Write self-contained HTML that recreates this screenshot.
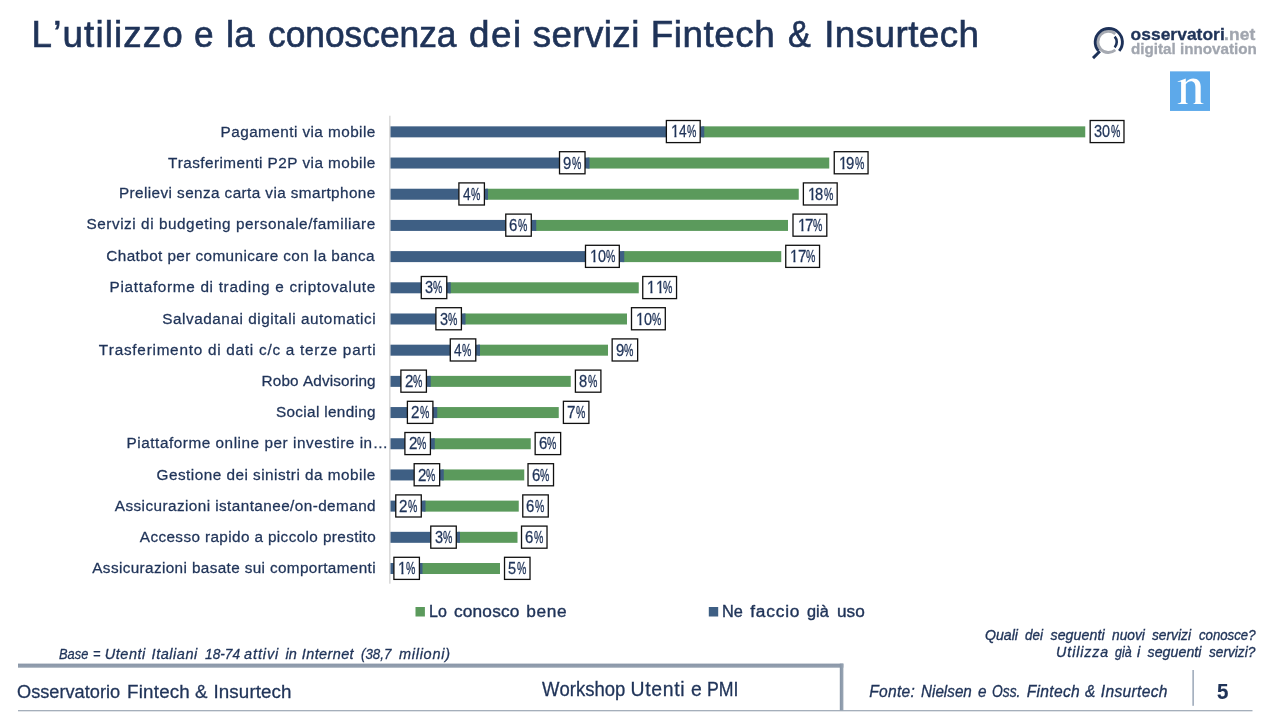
<!DOCTYPE html>
<html lang="it">
<head>
<meta charset="utf-8">
<title>L’utilizzo e la conoscenza dei servizi Fintech &amp; Insurtech</title>
<style>
html,body{margin:0;padding:0;background:#fff;}
body{width:1280px;height:720px;position:relative;overflow:hidden;font-family:"Liberation Sans",sans-serif;font-kerning:none;font-variant-ligatures:none;}
.grp,.lb{position:absolute;left:0;top:0;width:0;height:0;font-size:0;line-height:0;}
.t{position:absolute;display:block;white-space:pre;line-height:1;transform-origin:0 0;}
.g{position:absolute;display:block;line-height:1;white-space:pre;transform-origin:0 0;color:#1f3358;font-size:16.3px;-webkit-text-stroke:0.27px #1f3358;}
svg{position:absolute;left:0;top:0;}
#txt{position:absolute;left:0;top:0;width:1280px;height:720px;will-change:transform;}
</style>
</head>
<body>
<svg width="1280" height="720" viewBox="0 0 1280 720">
<defs><linearGradient id="hg" x1="0" y1="0" x2="0" y2="1"><stop offset="0" stop-color="#8996a8"/><stop offset="1" stop-color="#95a1b0"/></linearGradient><linearGradient id="vg" x1="0" y1="0" x2="1" y2="0"><stop offset="0" stop-color="#8594a6"/><stop offset="1" stop-color="#9aa6b4"/></linearGradient></defs>
<rect x="389.2" y="115.7" width="1.3" height="468" fill="#d3d3d3"/>
<rect x="702.25" y="126.35" width="383.00" height="11" fill="#5b9a5c"/>
<rect x="390.5" y="126.35" width="313.75" height="11" fill="#3e5f84"/>
<rect x="587.50" y="157.54" width="241.75" height="11" fill="#5b9a5c"/>
<rect x="390.5" y="157.54" width="199.00" height="11" fill="#3e5f84"/>
<rect x="486.00" y="188.73" width="312.75" height="11" fill="#5b9a5c"/>
<rect x="390.5" y="188.73" width="97.50" height="11" fill="#3e5f84"/>
<rect x="534.25" y="219.92" width="253.75" height="11" fill="#5b9a5c"/>
<rect x="390.5" y="219.92" width="145.75" height="11" fill="#3e5f84"/>
<rect x="622.25" y="251.11" width="159.00" height="11" fill="#5b9a5c"/>
<rect x="390.5" y="251.11" width="233.75" height="11" fill="#3e5f84"/>
<rect x="448.75" y="282.30" width="190.00" height="11" fill="#5b9a5c"/>
<rect x="390.5" y="282.30" width="60.25" height="11" fill="#3e5f84"/>
<rect x="463.50" y="313.49" width="163.50" height="11" fill="#5b9a5c"/>
<rect x="390.5" y="313.49" width="75.00" height="11" fill="#3e5f84"/>
<rect x="478.00" y="344.68" width="130.00" height="11" fill="#5b9a5c"/>
<rect x="390.5" y="344.68" width="89.50" height="11" fill="#3e5f84"/>
<rect x="428.75" y="375.87" width="142.00" height="11" fill="#5b9a5c"/>
<rect x="390.5" y="375.87" width="40.25" height="11" fill="#3e5f84"/>
<rect x="435.25" y="407.06" width="123.50" height="11" fill="#5b9a5c"/>
<rect x="390.5" y="407.06" width="46.75" height="11" fill="#3e5f84"/>
<rect x="432.75" y="438.25" width="98.00" height="11" fill="#5b9a5c"/>
<rect x="390.5" y="438.25" width="44.25" height="11" fill="#3e5f84"/>
<rect x="441.75" y="469.44" width="82.50" height="11" fill="#5b9a5c"/>
<rect x="390.5" y="469.44" width="53.25" height="11" fill="#3e5f84"/>
<rect x="423.50" y="500.63" width="95.25" height="11" fill="#5b9a5c"/>
<rect x="390.5" y="500.63" width="35.00" height="11" fill="#3e5f84"/>
<rect x="458.00" y="531.82" width="59.50" height="11" fill="#5b9a5c"/>
<rect x="390.5" y="531.82" width="69.50" height="11" fill="#3e5f84"/>
<rect x="420.50" y="563.01" width="79.50" height="11" fill="#5b9a5c"/>
<rect x="390.5" y="563.01" width="32.00" height="11" fill="#3e5f84"/>
<rect x="666.38" y="120.50" width="33.80" height="22.10" fill="#fff" stroke="#101010" stroke-width="1.3"/>
<rect x="1090.18" y="120.50" width="33.80" height="22.10" fill="#fff" stroke="#101010" stroke-width="1.3"/>
<rect x="559.52" y="151.70" width="25.50" height="22.10" fill="#fff" stroke="#101010" stroke-width="1.3"/>
<rect x="834.25" y="151.70" width="33.80" height="22.10" fill="#fff" stroke="#101010" stroke-width="1.3"/>
<rect x="458.90" y="182.90" width="25.50" height="22.10" fill="#fff" stroke="#101010" stroke-width="1.3"/>
<rect x="803.38" y="182.90" width="33.80" height="22.10" fill="#fff" stroke="#101010" stroke-width="1.3"/>
<rect x="505.77" y="214.10" width="25.50" height="22.10" fill="#fff" stroke="#101010" stroke-width="1.3"/>
<rect x="793.00" y="214.10" width="33.80" height="22.10" fill="#fff" stroke="#101010" stroke-width="1.3"/>
<rect x="585.50" y="245.30" width="33.80" height="22.10" fill="#fff" stroke="#101010" stroke-width="1.3"/>
<rect x="785.75" y="245.30" width="33.80" height="22.10" fill="#fff" stroke="#101010" stroke-width="1.3"/>
<rect x="421.27" y="276.50" width="25.50" height="22.10" fill="#fff" stroke="#101010" stroke-width="1.3"/>
<rect x="642.75" y="276.50" width="33.80" height="22.10" fill="#fff" stroke="#101010" stroke-width="1.3"/>
<rect x="435.90" y="307.70" width="25.50" height="22.10" fill="#fff" stroke="#101010" stroke-width="1.3"/>
<rect x="631.50" y="307.70" width="33.80" height="22.10" fill="#fff" stroke="#101010" stroke-width="1.3"/>
<rect x="450.27" y="338.90" width="25.50" height="22.10" fill="#fff" stroke="#101010" stroke-width="1.3"/>
<rect x="612.15" y="338.90" width="25.50" height="22.10" fill="#fff" stroke="#101010" stroke-width="1.3"/>
<rect x="400.90" y="370.10" width="25.50" height="22.10" fill="#fff" stroke="#101010" stroke-width="1.3"/>
<rect x="575.40" y="370.10" width="25.50" height="22.10" fill="#fff" stroke="#101010" stroke-width="1.3"/>
<rect x="407.40" y="401.30" width="25.50" height="22.10" fill="#fff" stroke="#101010" stroke-width="1.3"/>
<rect x="563.40" y="401.30" width="25.50" height="22.10" fill="#fff" stroke="#101010" stroke-width="1.3"/>
<rect x="404.90" y="432.50" width="25.50" height="22.10" fill="#fff" stroke="#101010" stroke-width="1.3"/>
<rect x="535.15" y="432.50" width="25.50" height="22.10" fill="#fff" stroke="#101010" stroke-width="1.3"/>
<rect x="414.15" y="463.70" width="25.50" height="22.10" fill="#fff" stroke="#101010" stroke-width="1.3"/>
<rect x="528.02" y="463.70" width="25.50" height="22.10" fill="#fff" stroke="#101010" stroke-width="1.3"/>
<rect x="395.77" y="494.90" width="25.50" height="22.10" fill="#fff" stroke="#101010" stroke-width="1.3"/>
<rect x="522.77" y="494.90" width="25.50" height="22.10" fill="#fff" stroke="#101010" stroke-width="1.3"/>
<rect x="430.77" y="526.10" width="25.50" height="22.10" fill="#fff" stroke="#101010" stroke-width="1.3"/>
<rect x="521.52" y="526.10" width="25.50" height="22.10" fill="#fff" stroke="#101010" stroke-width="1.3"/>
<rect x="393.90" y="557.30" width="25.50" height="22.10" fill="#fff" stroke="#101010" stroke-width="1.3"/>
<rect x="504.52" y="557.30" width="25.50" height="22.10" fill="#fff" stroke="#101010" stroke-width="1.3"/>
<rect x="415.5" y="607" width="9.4" height="9.5" fill="#5b9a5c"/>
<rect x="708.8" y="607" width="9.4" height="9.5" fill="#3e5f84"/>
<rect x="18" y="663.6" width="825.4" height="4.1" fill="url(#hg)"/>
<rect x="839.8" y="663.6" width="3.6" height="47.2" fill="url(#vg)"/>
<rect x="18" y="710.1" width="1234.5" height="1.2" fill="#9ca7b4"/>
<rect x="1192.5" y="670" width="1.2" height="35.8" fill="#8191a6"/>
<rect x="1170" y="71.35" width="40" height="39.6" fill="#5da9ea"/>
<path fill="#fff" d="M1177.7 81.4 L1185.8 78.4 L1185.8 82.2 C1187.5 80 1190.5 78.4 1193.2 78.4 C1198 78.4 1200.7 81.5 1200.7 86.5 L1200.7 101.5 C1200.7 102.8 1201.5 103.2 1203.5 103.4 L1203.5 103.9 L1193.4 103.9 L1193.4 103.4 C1194.8 103.2 1195.4 102.8 1195.4 101.5 L1195.4 87.5 C1195.4 83.5 1193.8 81.3 1191 81.3 C1189 81.3 1187 82.5 1185.8 84.3 L1185.8 101.5 C1185.8 102.8 1186.4 103.2 1187.8 103.4 L1187.8 103.9 L1177.7 103.9 L1177.7 103.4 C1179.8 103.2 1181.1 102.8 1181.1 101.5 L1181.1 82 C1181.1 81.6 1180 81.6 1177.7 82 Z"/>
<g fill="none">
<path d="M 1115.3 33.8 A 10.6 10.6 0 1 0 1115.3 50.0" stroke="#a6aab2" stroke-width="2.9"/>
<path d="M 1119.2 50.9 A 13.6 13.6 0 1 0 1098.4 50.9" stroke="#1d3158" stroke-width="2.9"/>
<path d="M 1099.9 51.2 L 1093.0 58.1" stroke="#1d3158" stroke-width="2.9"/>
<path d="M 1114.7 36.7 A 8.2 8.2 0 0 1 1114.7 47.5" stroke="#1d3158" stroke-width="2.6"/>
</g>
</svg>
<div id="txt">
<div class="grp"><span class="t" style='left:31.61px;top:17px;font-size:36.8px;color:#1f3358;transform:scaleX(1.0000);letter-spacing:1.121px;-webkit-text-stroke:0.65px #1f3358;'>L’utilizzo</span> <span class="t" style='left:194.11px;top:17px;font-size:36.8px;color:#1f3358;transform:scaleX(0.9571);-webkit-text-stroke:0.65px #1f3358;'>e</span> <span class="t" style='left:226.25px;top:17px;font-size:36.8px;color:#1f3358;transform:scaleX(0.9958);-webkit-text-stroke:0.65px #1f3358;'>la</span> <span class="t" style='left:268.11px;top:17px;font-size:36.8px;color:#1f3358;transform:scaleX(0.9599);-webkit-text-stroke:0.65px #1f3358;'>conoscenza</span> <span class="t" style='left:469.08px;top:17px;font-size:36.8px;color:#1f3358;transform:scaleX(1.0000);letter-spacing:1.533px;-webkit-text-stroke:0.65px #1f3358;'>dei</span> <span class="t" style='left:532.70px;top:17px;font-size:36.8px;color:#1f3358;transform:scaleX(1.0000);letter-spacing:0.397px;-webkit-text-stroke:0.65px #1f3358;'>servizi</span> <span class="t" style='left:650.71px;top:17px;font-size:36.8px;color:#1f3358;transform:scaleX(1.0000);letter-spacing:0.563px;-webkit-text-stroke:0.65px #1f3358;'>Fintech</span> <span class="t" style='left:788.40px;top:17px;font-size:36.8px;color:#1f3358;transform:scaleX(0.9281);-webkit-text-stroke:0.65px #1f3358;'>&amp;</span> <span class="t" style='left:824.13px;top:17px;font-size:36.8px;color:#1f3358;transform:scaleX(1.0000);letter-spacing:0.440px;-webkit-text-stroke:0.65px #1f3358;'>Insurtech</span></div>
<div class="grp"><span class="t" style='left:220.58px;top:124px;font-size:15.3px;color:#1f3358;transform:scaleX(1.0000);letter-spacing:0.446px;-webkit-text-stroke:0.28px #1f3358;'>Pagamenti via mobile</span></div>
<div class="grp"><span class="t" style='left:168.00px;top:155px;font-size:15.3px;color:#1f3358;transform:scaleX(1.0000);letter-spacing:0.436px;-webkit-text-stroke:0.28px #1f3358;'>Trasferimenti P2P via mobile</span></div>
<div class="grp"><span class="t" style='left:118.98px;top:185px;font-size:15.3px;color:#1f3358;transform:scaleX(1.0000);letter-spacing:0.411px;-webkit-text-stroke:0.28px #1f3358;'>Prelievi senza carta via smartphone</span></div>
<div class="grp"><span class="t" style='left:86.45px;top:216px;font-size:15.3px;color:#1f3358;transform:scaleX(1.0000);letter-spacing:0.560px;-webkit-text-stroke:0.28px #1f3358;'>Servizi di budgeting personale/familiare</span></div>
<div class="grp"><span class="t" style='left:106.31px;top:248px;font-size:15.3px;color:#1f3358;transform:scaleX(1.0000);letter-spacing:0.413px;-webkit-text-stroke:0.28px #1f3358;'>Chatbot per comunicare con la banca</span></div>
<div class="grp"><span class="t" style='left:109.58px;top:279px;font-size:15.3px;color:#1f3358;transform:scaleX(1.0000);letter-spacing:0.697px;-webkit-text-stroke:0.28px #1f3358;'>Piattaforme di trading e criptovalute</span></div>
<div class="grp"><span class="t" style='left:162.15px;top:311px;font-size:15.3px;color:#1f3358;transform:scaleX(1.0000);letter-spacing:0.560px;-webkit-text-stroke:0.28px #1f3358;'>Salvadanai digitali automatici</span></div>
<div class="grp"><span class="t" style='left:98.75px;top:342px;font-size:15.3px;color:#1f3358;transform:scaleX(1.0000);letter-spacing:0.754px;-webkit-text-stroke:0.28px #1f3358;'>Trasferimento di dati c/c a terze parti</span></div>
<div class="grp"><span class="t" style='left:261.58px;top:373px;font-size:15.3px;color:#1f3358;transform:scaleX(1.0000);letter-spacing:0.128px;-webkit-text-stroke:0.28px #1f3358;'>Robo Advisoring</span></div>
<div class="grp"><span class="t" style='left:275.90px;top:404px;font-size:15.3px;color:#1f3358;transform:scaleX(1.0000);letter-spacing:0.345px;-webkit-text-stroke:0.28px #1f3358;'>Social lending</span></div>
<div class="grp"><span class="t" style='left:126.58px;top:435px;font-size:15.3px;color:#1f3358;transform:scaleX(1.0000);letter-spacing:0.544px;-webkit-text-stroke:0.28px #1f3358;'>Piattaforme online per investire in…</span></div>
<div class="grp"><span class="t" style='left:156.57px;top:467px;font-size:15.3px;color:#1f3358;transform:scaleX(1.0000);letter-spacing:0.489px;-webkit-text-stroke:0.28px #1f3358;'>Gestione dei sinistri da mobile</span></div>
<div class="grp"><span class="t" style='left:114.81px;top:498px;font-size:15.3px;color:#1f3358;transform:scaleX(1.0000);letter-spacing:0.430px;-webkit-text-stroke:0.28px #1f3358;'>Assicurazioni istantanee/on-demand</span></div>
<div class="grp"><span class="t" style='left:139.81px;top:529px;font-size:15.3px;color:#1f3358;transform:scaleX(1.0000);letter-spacing:0.385px;-webkit-text-stroke:0.28px #1f3358;'>Accesso rapido a piccolo prestito</span></div>
<div class="grp"><span class="t" style='left:92.31px;top:560px;font-size:15.3px;color:#1f3358;transform:scaleX(1.0000);letter-spacing:0.373px;-webkit-text-stroke:0.28px #1f3358;'>Assicurazioni basate sui comportamenti</span></div>
<div class="grp"><span class="t" style='left:428.77px;top:603px;font-size:17.3px;color:#1f3358;transform:scaleX(0.9259);-webkit-text-stroke:0.4px #1f3358;'>Lo</span> <span class="t" style='left:453.97px;top:603px;font-size:17.3px;color:#1f3358;transform:scaleX(1.0000);letter-spacing:0.171px;-webkit-text-stroke:0.4px #1f3358;'>conosco</span> <span class="t" style='left:526.18px;top:603px;font-size:17.3px;color:#1f3358;transform:scaleX(1.0000);letter-spacing:0.666px;-webkit-text-stroke:0.4px #1f3358;'>bene</span></div>
<div class="grp"><span class="t" style='left:722.45px;top:603px;font-size:17.3px;color:#1f3358;transform:scaleX(0.9446);-webkit-text-stroke:0.4px #1f3358;'>Ne</span> <span class="t" style='left:750.16px;top:603px;font-size:17.3px;color:#1f3358;transform:scaleX(1.0000);letter-spacing:0.836px;-webkit-text-stroke:0.4px #1f3358;'>faccio</span> <span class="t" style='left:806.80px;top:603px;font-size:17.3px;color:#1f3358;transform:scaleX(0.9446);-webkit-text-stroke:0.4px #1f3358;'>già</span> <span class="t" style='left:836.58px;top:603px;font-size:17.3px;color:#1f3358;transform:scaleX(0.9946);-webkit-text-stroke:0.4px #1f3358;'>uso</span></div>
<div class="grp"><span class="t" style='left:58.74px;top:647px;font-size:14.5px;color:#1f3358;transform:scaleX(0.8867);-webkit-text-stroke:0.3px #1f3358;font-style:italic;'>Base</span> <span class="t" style='left:92.82px;top:647px;font-size:14.5px;color:#1f3358;transform:scaleX(0.8850);-webkit-text-stroke:0.3px #1f3358;font-style:italic;'>=</span> <span class="t" style='left:104.87px;top:647px;font-size:14.5px;color:#1f3358;transform:scaleX(1.0000);letter-spacing:0.496px;-webkit-text-stroke:0.3px #1f3358;font-style:italic;'>Utenti</span> <span class="t" style='left:151.58px;top:647px;font-size:14.5px;color:#1f3358;transform:scaleX(1.0000);letter-spacing:0.533px;-webkit-text-stroke:0.3px #1f3358;font-style:italic;'>Italiani</span> <span class="t" style='left:204.79px;top:647px;font-size:14.5px;color:#1f3358;transform:scaleX(0.9461);-webkit-text-stroke:0.3px #1f3358;font-style:italic;'>18-74</span> <span class="t" style='left:244.12px;top:647px;font-size:14.5px;color:#1f3358;transform:scaleX(1.0000);letter-spacing:0.857px;-webkit-text-stroke:0.3px #1f3358;font-style:italic;'>attivi</span> <span class="t" style='left:285.42px;top:647px;font-size:14.5px;color:#1f3358;transform:scaleX(1.0000);letter-spacing:0.206px;-webkit-text-stroke:0.3px #1f3358;font-style:italic;'>in</span> <span class="t" style='left:301.78px;top:647px;font-size:14.5px;color:#1f3358;transform:scaleX(1.0000);letter-spacing:0.386px;-webkit-text-stroke:0.3px #1f3358;font-style:italic;'>Internet</span> <span class="t" style='left:361.21px;top:647px;font-size:14.5px;color:#1f3358;transform:scaleX(0.9180);-webkit-text-stroke:0.3px #1f3358;font-style:italic;'>(38,7</span> <span class="t" style='left:398.91px;top:647px;font-size:14.5px;color:#1f3358;transform:scaleX(1.0000);letter-spacing:0.740px;-webkit-text-stroke:0.3px #1f3358;font-style:italic;'>milioni)</span></div>
<div class="grp"><span class="t" style='left:17.48px;top:683px;font-size:18.8px;color:#1f3358;transform:scaleX(0.9687);-webkit-text-stroke:0.3px #1f3358;'>Osservatorio</span> <span class="t" style='left:127.11px;top:683px;font-size:18.8px;color:#1f3358;transform:scaleX(1.0000);letter-spacing:0.185px;-webkit-text-stroke:0.3px #1f3358;'>Fintech</span> <span class="t" style='left:195.29px;top:683px;font-size:18.8px;color:#1f3358;transform:scaleX(0.9929);-webkit-text-stroke:0.3px #1f3358;'>&amp;</span> <span class="t" style='left:213.52px;top:683px;font-size:18.8px;color:#1f3358;transform:scaleX(1.0000);letter-spacing:0.091px;-webkit-text-stroke:0.3px #1f3358;'>Insurtech</span></div>
<div class="grp"><span class="t" style='left:541.56px;top:680px;font-size:19.4px;color:#1f3358;transform:scaleX(0.9536);-webkit-text-stroke:0.3px #1f3358;'>Workshop</span> <span class="t" style='left:630.45px;top:680px;font-size:19.4px;color:#1f3358;transform:scaleX(1.0000);letter-spacing:0.705px;-webkit-text-stroke:0.3px #1f3358;'>Utenti</span> <span class="t" style='left:690.93px;top:680px;font-size:19.4px;color:#1f3358;transform:scaleX(0.9997);-webkit-text-stroke:0.3px #1f3358;'>e</span> <span class="t" style='left:707.48px;top:680px;font-size:19.4px;color:#1f3358;transform:scaleX(0.9138);-webkit-text-stroke:0.3px #1f3358;'>PMI</span></div>
<div class="grp"><span class="t" style='left:985.38px;top:628px;font-size:14.2px;color:#1f3358;transform:scaleX(0.9964);-webkit-text-stroke:0.35px #1f3358;font-style:italic;'>Quali</span> <span class="t" style='left:1025.01px;top:628px;font-size:14.2px;color:#1f3358;transform:scaleX(0.9457);-webkit-text-stroke:0.35px #1f3358;font-style:italic;'>dei</span> <span class="t" style='left:1050.54px;top:628px;font-size:14.2px;color:#1f3358;transform:scaleX(1.0000);letter-spacing:0.054px;-webkit-text-stroke:0.35px #1f3358;font-style:italic;'>seguenti</span> <span class="t" style='left:1111.84px;top:628px;font-size:14.2px;color:#1f3358;transform:scaleX(0.9686);-webkit-text-stroke:0.35px #1f3358;font-style:italic;'>nuovi</span> <span class="t" style='left:1152.34px;top:628px;font-size:14.2px;color:#1f3358;transform:scaleX(0.9689);-webkit-text-stroke:0.35px #1f3358;font-style:italic;'>servizi</span> <span class="t" style='left:1198.53px;top:628px;font-size:14.2px;color:#1f3358;transform:scaleX(0.9302);-webkit-text-stroke:0.35px #1f3358;font-style:italic;'>conosce?</span></div>
<div class="grp"><span class="t" style='left:1056.11px;top:645px;font-size:14.2px;color:#1f3358;transform:scaleX(1.0000);letter-spacing:0.919px;-webkit-text-stroke:0.35px #1f3358;font-style:italic;'>Utilizza</span> <span class="t" style='left:1114.63px;top:645px;font-size:14.2px;color:#1f3358;transform:scaleX(0.8764);-webkit-text-stroke:0.35px #1f3358;font-style:italic;'>già</span> <span class="t" style='left:1137.04px;top:645px;font-size:14.2px;color:#1f3358;transform:scaleX(1.0292);-webkit-text-stroke:0.35px #1f3358;font-style:italic;'>i</span> <span class="t" style='left:1147.54px;top:645px;font-size:14.2px;color:#1f3358;transform:scaleX(1.0000);letter-spacing:0.040px;-webkit-text-stroke:0.35px #1f3358;font-style:italic;'>seguenti</span> <span class="t" style='left:1208.74px;top:645px;font-size:14.2px;color:#1f3358;transform:scaleX(0.9627);-webkit-text-stroke:0.35px #1f3358;font-style:italic;'>servizi?</span></div>
<div class="grp"><span class="t" style='left:869.18px;top:684px;font-size:15.6px;color:#1f3358;transform:scaleX(1.0000);letter-spacing:0.312px;-webkit-text-stroke:0.32px #1f3358;font-style:italic;'>Fonte:</span> <span class="t" style='left:921.44px;top:684px;font-size:15.6px;color:#1f3358;transform:scaleX(0.9774);-webkit-text-stroke:0.32px #1f3358;font-style:italic;'>Nielsen</span> <span class="t" style='left:977.64px;top:684px;font-size:15.6px;color:#1f3358;transform:scaleX(0.9821);-webkit-text-stroke:0.32px #1f3358;font-style:italic;'>e</span> <span class="t" style='left:991.89px;top:684px;font-size:15.6px;color:#1f3358;transform:scaleX(0.8859);-webkit-text-stroke:0.32px #1f3358;font-style:italic;'>Oss.</span> <span class="t" style='left:1026.68px;top:684px;font-size:15.6px;color:#1f3358;transform:scaleX(1.0000);letter-spacing:0.328px;-webkit-text-stroke:0.32px #1f3358;font-style:italic;'>Fintech</span> <span class="t" style='left:1085.41px;top:684px;font-size:15.6px;color:#1f3358;transform:scaleX(0.9859);-webkit-text-stroke:0.32px #1f3358;font-style:italic;'>&amp;</span> <span class="t" style='left:1100.79px;top:684px;font-size:15.6px;color:#1f3358;transform:scaleX(1.0000);letter-spacing:0.324px;-webkit-text-stroke:0.32px #1f3358;font-style:italic;'>Insurtech</span></div>
<div class="grp"><span class="t" style='left:1216.76px;top:681px;font-size:22px;color:#1f3358;transform:scaleX(0.9330);-webkit-text-stroke:0.2px #1f3358;font-weight:bold;'>5</span></div>
<div class="grp"><span class="t" style='left:1130.60px;top:26px;font-size:17.4px;color:#1f3358;transform:scaleX(1.0000);letter-spacing:0.035px;-webkit-text-stroke:0.35px #1f3358;font-weight:bold;'>osservatori</span><span class="t" style='left:1224.09px;top:26px;font-size:17.4px;color:#a1a6af;transform:scaleX(1.0000);letter-spacing:0.136px;-webkit-text-stroke:0.35px #a1a6af;font-weight:bold;'>.net</span></div>
<div class="grp"><span class="t" style='left:1130.62px;top:41px;font-size:15.5px;color:#a1a6af;transform:scaleX(0.9811);-webkit-text-stroke:0.3px #a1a6af;font-weight:bold;'>digital innovation</span></div>
<div class="lb"><span class="g" style="left:670.92px;top:123px;transform:scaleX(0.920);clip-path:polygon(-1.00px -2.00px,10.07px -2.00px,10.07px 11.88px,5.94px 11.88px,5.94px 15.00px,3.70px 15.00px,3.70px 11.88px,-1.00px 11.88px);">1</span><span class="g" style="left:678.77px;top:123px;transform:scaleX(0.843);">4</span><span class="g" style="left:686.79px;top:123px;transform:scaleX(0.647);-webkit-text-stroke-width:0.36px;">%</span></div>
<div class="lb"><span class="g" style="left:1094.04px;top:123px;transform:scaleX(0.894);">3</span><span class="g" style="left:1102.33px;top:123px;transform:scaleX(0.887);">0</span><span class="g" style="left:1110.59px;top:123px;transform:scaleX(0.647);-webkit-text-stroke-width:0.36px;">%</span></div>
<div class="lb"><span class="g" style="left:563.25px;top:155px;transform:scaleX(0.917);">9</span><span class="g" style="left:571.64px;top:155px;transform:scaleX(0.647);-webkit-text-stroke-width:0.36px;">%</span></div>
<div class="lb"><span class="g" style="left:838.80px;top:155px;transform:scaleX(0.920);clip-path:polygon(-1.00px -2.00px,10.07px -2.00px,10.07px 11.88px,5.94px 11.88px,5.94px 15.00px,3.70px 15.00px,3.70px 11.88px,-1.00px 11.88px);">1</span><span class="g" style="left:846.27px;top:155px;transform:scaleX(0.917);">9</span><span class="g" style="left:854.66px;top:155px;transform:scaleX(0.647);-webkit-text-stroke-width:0.36px;">%</span></div>
<div class="lb"><span class="g" style="left:463.00px;top:186px;transform:scaleX(0.843);">4</span><span class="g" style="left:471.01px;top:186px;transform:scaleX(0.647);-webkit-text-stroke-width:0.36px;">%</span></div>
<div class="lb"><span class="g" style="left:807.92px;top:186px;transform:scaleX(0.920);clip-path:polygon(-1.00px -2.00px,10.07px -2.00px,10.07px 11.88px,5.94px 11.88px,5.94px 15.00px,3.70px 15.00px,3.70px 11.88px,-1.00px 11.88px);">1</span><span class="g" style="left:815.46px;top:186px;transform:scaleX(0.903);">8</span><span class="g" style="left:823.79px;top:186px;transform:scaleX(0.647);-webkit-text-stroke-width:0.36px;">%</span></div>
<div class="lb"><span class="g" style="left:509.44px;top:217px;transform:scaleX(0.918);">6</span><span class="g" style="left:517.89px;top:217px;transform:scaleX(0.647);-webkit-text-stroke-width:0.36px;">%</span></div>
<div class="lb"><span class="g" style="left:797.55px;top:217px;transform:scaleX(0.920);clip-path:polygon(-1.00px -2.00px,10.07px -2.00px,10.07px 11.88px,5.94px 11.88px,5.94px 15.00px,3.70px 15.00px,3.70px 11.88px,-1.00px 11.88px);">1</span><span class="g" style="left:804.95px;top:217px;transform:scaleX(0.931);">7</span><span class="g" style="left:813.41px;top:217px;transform:scaleX(0.647);-webkit-text-stroke-width:0.36px;">%</span></div>
<div class="lb"><span class="g" style="left:590.05px;top:248px;transform:scaleX(0.920);clip-path:polygon(-1.00px -2.00px,10.07px -2.00px,10.07px 11.88px,5.94px 11.88px,5.94px 15.00px,3.70px 15.00px,3.70px 11.88px,-1.00px 11.88px);">1</span><span class="g" style="left:597.66px;top:248px;transform:scaleX(0.887);">0</span><span class="g" style="left:605.91px;top:248px;transform:scaleX(0.647);-webkit-text-stroke-width:0.36px;">%</span></div>
<div class="lb"><span class="g" style="left:790.30px;top:248px;transform:scaleX(0.920);clip-path:polygon(-1.00px -2.00px,10.07px -2.00px,10.07px 11.88px,5.94px 11.88px,5.94px 15.00px,3.70px 15.00px,3.70px 11.88px,-1.00px 11.88px);">1</span><span class="g" style="left:797.70px;top:248px;transform:scaleX(0.931);">7</span><span class="g" style="left:806.16px;top:248px;transform:scaleX(0.647);-webkit-text-stroke-width:0.36px;">%</span></div>
<div class="lb"><span class="g" style="left:425.14px;top:279px;transform:scaleX(0.894);">3</span><span class="g" style="left:433.39px;top:279px;transform:scaleX(0.647);-webkit-text-stroke-width:0.36px;">%</span></div>
<div class="lb"><span class="g" style="left:647.30px;top:279px;transform:scaleX(0.920);clip-path:polygon(-1.00px -2.00px,10.07px -2.00px,10.07px 11.88px,5.94px 11.88px,5.94px 15.00px,3.70px 15.00px,3.70px 11.88px,-1.00px 11.88px);">1</span><span class="g" style="left:655.60px;top:279px;transform:scaleX(0.920);clip-path:polygon(-1.00px -2.00px,10.07px -2.00px,10.07px 11.88px,5.94px 11.88px,5.94px 15.00px,3.70px 15.00px,3.70px 11.88px,-1.00px 11.88px);">1</span><span class="g" style="left:663.16px;top:279px;transform:scaleX(0.647);-webkit-text-stroke-width:0.36px;">%</span></div>
<div class="lb"><span class="g" style="left:439.77px;top:311px;transform:scaleX(0.894);">3</span><span class="g" style="left:448.01px;top:311px;transform:scaleX(0.647);-webkit-text-stroke-width:0.36px;">%</span></div>
<div class="lb"><span class="g" style="left:636.05px;top:311px;transform:scaleX(0.920);clip-path:polygon(-1.00px -2.00px,10.07px -2.00px,10.07px 11.88px,5.94px 11.88px,5.94px 15.00px,3.70px 15.00px,3.70px 11.88px,-1.00px 11.88px);">1</span><span class="g" style="left:643.66px;top:311px;transform:scaleX(0.887);">0</span><span class="g" style="left:651.91px;top:311px;transform:scaleX(0.647);-webkit-text-stroke-width:0.36px;">%</span></div>
<div class="lb"><span class="g" style="left:454.37px;top:342px;transform:scaleX(0.843);">4</span><span class="g" style="left:462.39px;top:342px;transform:scaleX(0.647);-webkit-text-stroke-width:0.36px;">%</span></div>
<div class="lb"><span class="g" style="left:615.87px;top:342px;transform:scaleX(0.917);">9</span><span class="g" style="left:624.26px;top:342px;transform:scaleX(0.647);-webkit-text-stroke-width:0.36px;">%</span></div>
<div class="lb"><span class="g" style="left:404.56px;top:373px;transform:scaleX(0.929);">2</span><span class="g" style="left:413.01px;top:373px;transform:scaleX(0.647);-webkit-text-stroke-width:0.36px;">%</span></div>
<div class="lb"><span class="g" style="left:579.18px;top:373px;transform:scaleX(0.903);">8</span><span class="g" style="left:587.51px;top:373px;transform:scaleX(0.647);-webkit-text-stroke-width:0.36px;">%</span></div>
<div class="lb"><span class="g" style="left:411.06px;top:404px;transform:scaleX(0.929);">2</span><span class="g" style="left:419.51px;top:404px;transform:scaleX(0.647);-webkit-text-stroke-width:0.36px;">%</span></div>
<div class="lb"><span class="g" style="left:567.05px;top:404px;transform:scaleX(0.931);">7</span><span class="g" style="left:575.51px;top:404px;transform:scaleX(0.647);-webkit-text-stroke-width:0.36px;">%</span></div>
<div class="lb"><span class="g" style="left:408.56px;top:435px;transform:scaleX(0.929);">2</span><span class="g" style="left:417.01px;top:435px;transform:scaleX(0.647);-webkit-text-stroke-width:0.36px;">%</span></div>
<div class="lb"><span class="g" style="left:538.81px;top:435px;transform:scaleX(0.918);">6</span><span class="g" style="left:547.26px;top:435px;transform:scaleX(0.647);-webkit-text-stroke-width:0.36px;">%</span></div>
<div class="lb"><span class="g" style="left:417.81px;top:467px;transform:scaleX(0.929);">2</span><span class="g" style="left:426.26px;top:467px;transform:scaleX(0.647);-webkit-text-stroke-width:0.36px;">%</span></div>
<div class="lb"><span class="g" style="left:531.69px;top:467px;transform:scaleX(0.918);">6</span><span class="g" style="left:540.14px;top:467px;transform:scaleX(0.647);-webkit-text-stroke-width:0.36px;">%</span></div>
<div class="lb"><span class="g" style="left:399.44px;top:498px;transform:scaleX(0.929);">2</span><span class="g" style="left:407.89px;top:498px;transform:scaleX(0.647);-webkit-text-stroke-width:0.36px;">%</span></div>
<div class="lb"><span class="g" style="left:526.44px;top:498px;transform:scaleX(0.918);">6</span><span class="g" style="left:534.89px;top:498px;transform:scaleX(0.647);-webkit-text-stroke-width:0.36px;">%</span></div>
<div class="lb"><span class="g" style="left:434.64px;top:529px;transform:scaleX(0.894);">3</span><span class="g" style="left:442.89px;top:529px;transform:scaleX(0.647);-webkit-text-stroke-width:0.36px;">%</span></div>
<div class="lb"><span class="g" style="left:525.19px;top:529px;transform:scaleX(0.918);">6</span><span class="g" style="left:533.64px;top:529px;transform:scaleX(0.647);-webkit-text-stroke-width:0.36px;">%</span></div>
<div class="lb"><span class="g" style="left:398.45px;top:560px;transform:scaleX(0.920);clip-path:polygon(-1.00px -2.00px,10.07px -2.00px,10.07px 11.88px,5.94px 11.88px,5.94px 15.00px,3.70px 15.00px,3.70px 11.88px,-1.00px 11.88px);">1</span><span class="g" style="left:406.01px;top:560px;transform:scaleX(0.647);-webkit-text-stroke-width:0.36px;">%</span></div>
<div class="lb"><span class="g" style="left:508.36px;top:560px;transform:scaleX(0.894);">5</span><span class="g" style="left:516.64px;top:560px;transform:scaleX(0.647);-webkit-text-stroke-width:0.36px;">%</span></div>
</div>
</body>
</html>
